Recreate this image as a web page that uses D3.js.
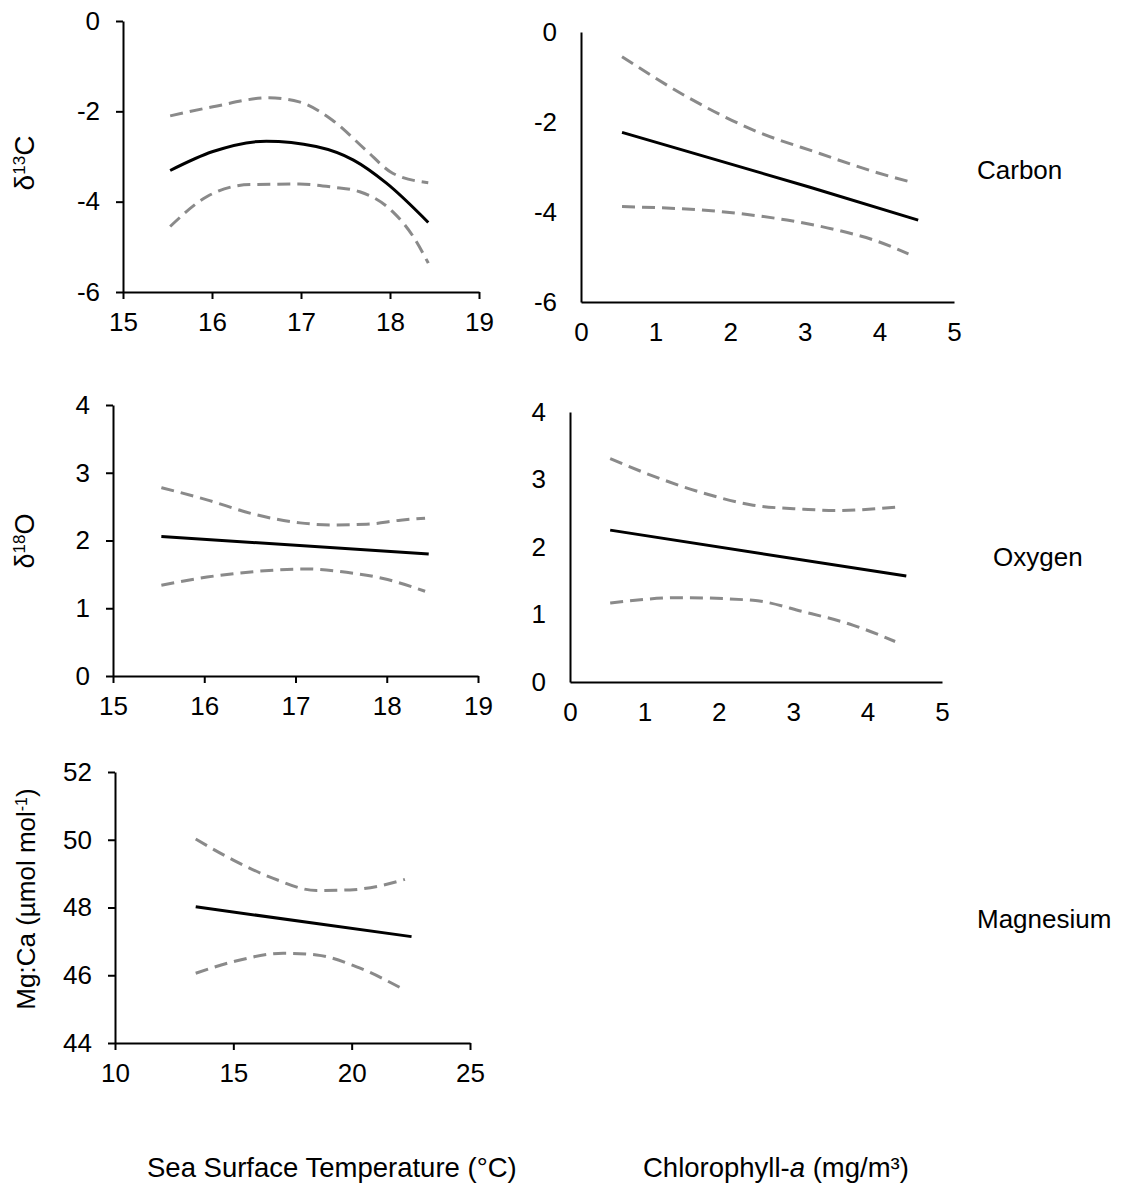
<!DOCTYPE html>
<html>
<head>
<meta charset="utf-8">
<script src="https://cdn.jsdelivr.net/npm/d3@7"></script>
<style>
  html, body { margin: 0; padding: 0; background: #fff; }
  svg { display: block; }
  text { font-family: "Liberation Sans", Arial, sans-serif; fill: #000; }
</style>
</head>
<body>
<svg id="chart" width="1129" height="1185"></svg>
<script>
// ---- Data ----
// Panel: SST vs d13C (Carbon)
const sstCarbonFit   = [[15.53,-3.31],[16.01,-2.89],[16.61,-2.66],[17.17,-2.78],[17.59,-3.08],[17.96,-3.59],[18.43,-4.46]];
const sstCarbonUpper = [[15.53,-2.10],[16.01,-1.90],[16.64,-1.70],[16.98,-1.79],[17.35,-2.19],[17.73,-2.86],[18.03,-3.37],[18.43,-3.58]];
const sstCarbonLower = [[15.53,-4.55],[15.94,-3.89],[16.43,-3.62],[16.98,-3.61],[17.36,-3.68],[17.66,-3.78],[18.03,-4.22],[18.26,-4.77],[18.43,-5.36]];
// Panel: Chl-a vs d13C
const chlCarbonFit   = [[0.55,-2.23],[3.07,-3.45],[4.52,-4.18]];
const chlCarbonUpper = [[0.55,-0.55],[1.42,-1.44],[2.31,-2.18],[3.20,-2.70],[3.92,-3.10],[4.41,-3.33]];
const chlCarbonLower = [[0.55,-3.88],[1.86,-3.99],[2.76,-4.18],[3.43,-4.40],[3.92,-4.62],[4.39,-4.93]];
// Panel: SST vs d18O (Oxygen)
const sstOxygenFit   = [[15.53,2.06],[18.46,1.80]];
const sstOxygenUpper = [[15.53,2.78],[16.03,2.60],[16.54,2.39],[17.05,2.26],[17.41,2.23],[17.78,2.24],[18.15,2.30],[18.42,2.33]];
const sstOxygenLower = [[15.53,1.34],[16.03,1.46],[16.54,1.54],[17.12,1.58],[17.56,1.53],[17.96,1.44],[18.42,1.25]];
// Panel: Chl-a vs d18O
const chlOxygenFit   = [[0.54,2.25],[4.52,1.57]];
const chlOxygenUpper = [[0.54,3.31],[1.12,3.05],[1.79,2.80],[2.46,2.62],[3.14,2.56],[3.58,2.54],[4.37,2.59]];
const chlOxygenLower = [[0.54,1.17],[1.48,1.25],[2.46,1.21],[3.14,1.04],[3.81,0.84],[4.37,0.60]];
// Panel: SST vs Mg:Ca (Magnesium)
const sstMgFit   = [[13.41,48.02],[22.53,47.14]];
const sstMgUpper = [[13.41,50.02],[15.00,49.40],[16.69,48.86],[18.52,48.50],[19.93,48.52],[21.34,48.66],[22.25,48.83]];
const sstMgLower = [[13.41,46.06],[15.00,46.40],[17.11,46.65],[18.52,46.60],[20.21,46.25],[22.25,45.56]];

// Tick labels
const sstTicks   = [15,16,17,18,19];
const sstMgTicks = [10,15,20,25];
const chlTicks   = [0,1,2,3,4,5];
const carbonTicks = [0,-2,-4,-6];
const oxygenTicks = [0,1,2,3,4];
const mgTicks     = [44,46,48,50,52];

const rowLabels = ["Carbon","Oxygen","Magnesium"];

// ---- Drawing ----
const svg = d3.select("#chart");

const panels = [
  {x:[123,479], y:[292,21], xd:[15,19], yd:[-6,0], xt:sstTicks, yt:carbonTicks, ticks:true,
   fit:sstCarbonFit, up:sstCarbonUpper, lo:sstCarbonLower},
  {x:[581,954], y:[302,32], xd:[0,5], yd:[-6,0], xt:chlTicks, yt:carbonTicks, ticks:false,
   fit:chlCarbonFit, up:chlCarbonUpper, lo:chlCarbonLower},
  {x:[113,478], y:[676,405], xd:[15,19], yd:[0,4], xt:sstTicks, yt:oxygenTicks, ticks:true,
   fit:sstOxygenFit, up:sstOxygenUpper, lo:sstOxygenLower},
  {x:[570,942], y:[682,412], xd:[0,5], yd:[0,4], xt:chlTicks, yt:oxygenTicks, ticks:false,
   fit:chlOxygenFit, up:chlOxygenUpper, lo:chlOxygenLower},
  {x:[115,470], y:[1043,772], xd:[10,25], yd:[44,52], xt:sstMgTicks, yt:mgTicks, ticks:true,
   fit:sstMgFit, up:sstMgUpper, lo:sstMgLower}
];

panels.forEach(p => {
  const xs = d3.scaleLinear().domain(p.xd).range(p.x);
  const ys = d3.scaleLinear().domain(p.yd).range(p.y);
  const tk = p.ticks ? 7 : 0;

  const line = d3.line().x(d => xs(d[0])).y(d => ys(d[1])).curve(d3.curveMonotoneX);

  svg.append("path").attr("d", line(p.up)).attr("fill","none")
     .attr("stroke","#8a8a8a").attr("stroke-width",3).attr("stroke-dasharray","13,7");
  svg.append("path").attr("d", line(p.lo)).attr("fill","none")
     .attr("stroke","#8a8a8a").attr("stroke-width",3).attr("stroke-dasharray","13,7");
  svg.append("path").attr("d", line(p.fit)).attr("fill","none")
     .attr("stroke","#000").attr("stroke-width",3);

  const ya = svg.append("g").attr("transform",`translate(${p.x[0]},0)`)
    .call(d3.axisLeft(ys).tickValues(p.yt).tickFormat(d => String(d))
      .tickSizeInner(tk).tickSizeOuter(0).tickPadding(p.ticks ? 16 : 24));
  const xa = svg.append("g").attr("transform",`translate(0,${p.y[0]})`)
    .call(d3.axisBottom(xs).tickValues(p.xt).tickFormat(d => String(d))
      .tickSizeInner(tk).tickSizeOuter(0).tickPadding(p.ticks ? 14 : 21));

  [ya, xa].forEach(g => {
    g.select(".domain").attr("stroke","#000").attr("stroke-width",2);
    g.selectAll(".tick line").attr("stroke","#000").attr("stroke-width",2);
    g.selectAll(".tick text").attr("font-size",26)
      .attr("font-family",'"Liberation Sans", Arial, sans-serif').attr("fill","#000");
  });
});

// Y axis titles
function yTitle(cx, cy, size, parts) {
  const t = svg.append("text")
    .attr("transform", `translate(${cx},${cy}) rotate(-90)`)
    .attr("text-anchor","middle")
    .attr("font-size",size);
  parts.forEach(pt => {
    const ts = t.append("tspan").text(pt.t);
    if (pt.sup) ts.attr("font-size",Math.round(size*0.62)).attr("baseline-shift","super");
  });
}
yTitle(34, 163, 28, [{t:"δ"},{t:"13",sup:true},{t:"C"}]);
yTitle(34, 541, 27, [{t:"δ"},{t:"18",sup:true},{t:"O"}]);
yTitle(35, 899, 26, [{t:"Mg:Ca (µmol mol"},{t:"-1",sup:true},{t:")"}]);

// Row labels
svg.append("text").attr("x",977).attr("y",179).attr("font-size",26).text(rowLabels[0]);
svg.append("text").attr("x",993).attr("y",566).attr("font-size",26).text(rowLabels[1]);
svg.append("text").attr("x",977).attr("y",928).attr("font-size",26).text(rowLabels[2]);

// Bottom axis titles
svg.append("text").attr("x",147).attr("y",1177).attr("font-size",27.5)
   .text("Sea Surface Temperature (°C)");
const ct = svg.append("text").attr("x",643).attr("y",1177).attr("font-size",27.5);
ct.append("tspan").text("Chlorophyll-");
ct.append("tspan").attr("font-style","italic").text("a");
ct.append("tspan").text(" (mg/m³)");
</script>
</body>
</html>
